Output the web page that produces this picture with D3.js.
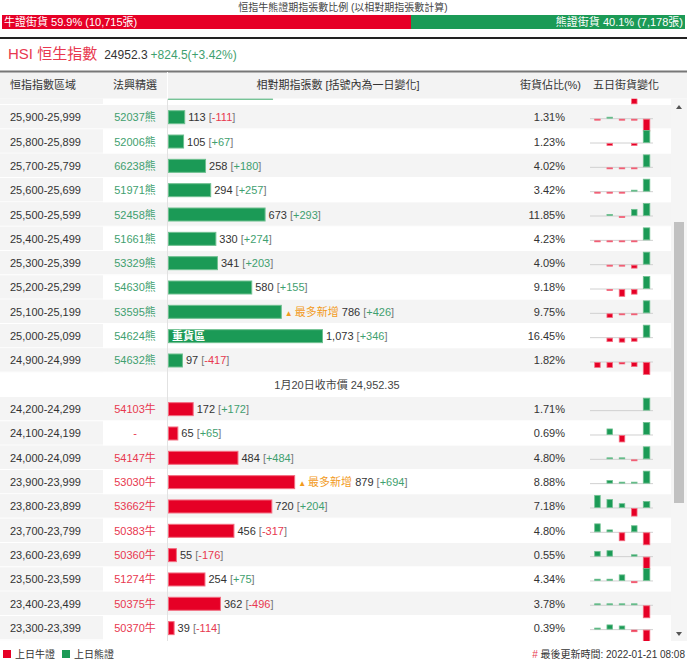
<!DOCTYPE html>
<html>
<head>
<meta charset="utf-8">
<script src="https://cdn.jsdelivr.net/npm/d3@7"></script>
<style>
  body { margin: 0; background: #fff; }
  svg { display: block; font-family: "Liberation Sans", "Noto Sans CJK TC", sans-serif; }
</style>
</head>
<body>
<script>
// ratio bar
var bullTotal = 10715, bearTotal = 7178;
var bullLabel = '牛證街貨 59.9% (10,715張)', bearLabel = '熊證街貨 40.1% (7,178張)';
var hsiValue = '24952.3', hsiChange = '+824.5(+3.42%)';
var closeText = '1月20日收市價 24,952.35';

// table rows, top to bottom (first row is scrolled up under the header)
var ranges = ['26,000-26,099', '25,900-25,999', '25,800-25,899', '25,700-25,799', '25,600-25,699', '25,500-25,599',
  '25,400-25,499', '25,300-25,399', '25,200-25,299', '25,100-25,199', '25,000-25,099', '24,900-24,999',
  '24,200-24,299', '24,100-24,199', '24,000-24,099', '23,900-23,999', '23,800-23,899', '23,700-23,799',
  '23,600-23,699', '23,500-23,599', '23,400-23,499', '23,300-23,399'];
var sides = ['bear', 'bear', 'bear', 'bear', 'bear', 'bear', 'bear', 'bear', 'bear', 'bear', 'bear', 'bear',
  'bull', 'bull', 'bull', 'bull', 'bull', 'bull', 'bull', 'bull', 'bull', 'bull'];
var codes = ['', '52037熊', '52006熊', '66238熊', '51971熊', '52458熊', '51661熊', '53329熊', '54630熊', '53595熊', '54624熊', '54632熊',
  '54103牛', '-', '54147牛', '53030牛', '53662牛', '50383牛', '50360牛', '51274牛', '50375牛', '50370牛'];
var counts = [725, 113, 105, 258, 294, 673, 330, 341, 580, 786, 1073, 97,
  172, 65, 484, 879, 720, 456, 55, 254, 362, 39];
var changes = [null, -111, 67, 180, 257, 293, 274, 203, 155, 426, 346, -417,
  172, 65, 484, 694, 204, -317, -176, 75, -496, -114];
var shares = ['', '1.31%', '1.23%', '4.02%', '3.42%', '11.85%', '4.23%', '4.09%', '9.18%', '9.75%', '16.45%', '1.82%',
  '1.71%', '0.69%', '4.80%', '8.88%', '7.18%', '4.80%', '0.55%', '4.34%', '3.78%', '0.39%'];
var notes = ['', '', '', '', '', '', '', '', '', '最多新增', '', '', '', '', '', '最多新增', '', '', '', '', '', ''];
var inside = ['', '', '', '', '', '', '', '', '', '', '重貨區', '', '', '', '', '', '', '', '', '', '', ''];
// five day change in street holdings
var fiveDay = [
  [0, 0, 0, -450, 600],
  [-8, 6, -8, -8, -111],
  [0, -11, 0, -11, 67],
  [0, -12, -12, -12, 180],
  [-15, -15, -15, 15, 257],
  [0, 18, -18, 150, 293],
  [-18, -18, -18, -18, 274],
  [0, -14, -14, -50, 203],
  [0, -10, -88, -60, 155],
  [0, -130, -30, -30, 426],
  [0, -100, -115, -90, 346],
  [-170, -170, -50, -140, -417],
  [0, 0, 0, 0, 172],
  [0, 30, -35, 0, 65],
  [0, 30, 30, -30, 484],
  [0, 150, 50, 50, 694],
  [410, 270, 130, -260, 204],
  [210, 50, -210, 160, -317],
  [70, 80, 0, 20, -176],
  [8, 8, 35, -8, 75],
  [30, 30, 30, 30, -496],
  [10, 40, 30, -15, -114]
];
var closeAfter = 11; // close price row goes after this row

var width = 687, height = 665;
var RED = '#e60026', GREEN = '#1b9a56', RED_L = '#f36d80', GREEN_L = '#6fc090';
var RED_T = '#e8384f', GREEN_T = '#3f9f6f';

var svg = d3.select('body').append('svg')
    .attr('width', width)
    .attr('height', height);

// ---- title + ratio bar
svg.append('text')
    .attr('x', 343).attr('y', 11)
    .attr('text-anchor', 'middle')
    .attr('font-size', 10).attr('fill', '#444')
    .text('恒指牛熊證期指張數比例 (以相對期指張數計算)');

var xr = d3.scaleLinear().domain([0, bullTotal + bearTotal]).range([2, 685]);
svg.append('rect').attr('x', xr(0)).attr('y', 15).attr('width', xr(bullTotal) - xr(0)).attr('height', 14).attr('fill', RED);
svg.append('rect').attr('x', xr(bullTotal)).attr('y', 15).attr('width', xr(bullTotal + bearTotal) - xr(bullTotal)).attr('height', 14).attr('fill', GREEN);
svg.append('text').attr('x', 4).attr('y', 26).attr('font-size', 11).attr('fill', '#fff').text(bullLabel);
svg.append('text').attr('x', 683).attr('y', 26).attr('text-anchor', 'end').attr('font-size', 11).attr('fill', '#fff').text(bearLabel);

svg.append('rect').attr('x', 0).attr('y', 37).attr('width', width).attr('height', 2).attr('fill', '#222');

// ---- HSI line
var hsi = svg.append('text').attr('x', 8).attr('y', 59);
hsi.append('tspan').attr('font-size', 15).attr('fill', RED_T).text('HSI 恒生指數');
hsi.append('tspan').attr('dx', 7).attr('font-size', 12).attr('fill', '#333').text(hsiValue);
hsi.append('tspan').attr('dx', 3).attr('font-size', 12).attr('fill', GREEN_T).text(hsiChange);

// ---- table rows
var rows = ranges.map(function(r, i) {
  return {range: r, side: sides[i], code: codes[i], count: counts[i], change: changes[i],
          share: shares[i], note: notes[i], inside: inside[i], five: fiveDay[i]};
});
var slots = [];
rows.forEach(function(d, i) {
  slots.push(d);
  if (i == closeAfter) slots.push({close: true});
});

var tableTop = 98.5, tableBottom = 641, tableRight = 671;
var y = d3.scaleBand()
    .domain(d3.range(slots.length))
    .range([80.7, 80.7 + slots.length * 24.33]);
var x = d3.scaleLinear().domain([0, 1073]).range([168, 322]);
var xs = d3.scaleBand().domain(d3.range(5)).range([591, 653]).paddingInner(0.55).paddingOuter(0.3);
var rh = y.bandwidth(), cy = rh / 2;

svg.append('clipPath').attr('id', 'tbl')
  .append('rect').attr('x', 0).attr('y', tableTop).attr('width', tableRight).attr('height', tableBottom - tableTop);

var body = svg.append('g').attr('clip-path', 'url(#tbl)');

var row = body.selectAll('g.row')
  .data(slots)
  .enter()
    .append('g')
    .attr('class', 'row')
    .attr('transform', function(d, i) { return 'translate(0,' + y(i) + ')'; });

row.append('rect')
    .attr('width', tableRight).attr('height', rh)
    .attr('fill', function(d, i) { return i % 2 == 1 ? '#f4f4f4' : '#fff'; });
row.filter(function(d) { return !d.close; })
  .append('rect')
    .attr('width', 103).attr('height', rh).attr('fill', '#f4f4f4');
row.append('line')
    .attr('x1', 0).attr('x2', tableRight).attr('y1', rh - 0.5).attr('y2', rh - 0.5)
    .attr('stroke', '#fff');

row.filter(function(d) { return d.close; })
  .append('text')
    .attr('x', 337).attr('y', cy + 4)
    .attr('text-anchor', 'middle').attr('font-size', 11).attr('fill', '#444')
    .text(closeText);

var data = row.filter(function(d) { return !d.close; });
// rows whose text is scrolled out of view get no text
var shown = data.filter(function(d, i) { return y(slots.indexOf(d)) + cy > tableTop; });

shown.append('text')
    .attr('x', 10).attr('y', cy + 4)
    .attr('font-size', 11).attr('fill', '#333')
    .text(function(d) { return d.range; });

shown.append('text')
    .attr('x', 135).attr('y', cy + 4)
    .attr('text-anchor', 'middle').attr('font-size', 11)
    .attr('fill', function(d) { return d.side == 'bear' ? GREEN_T : RED_T; })
    .text(function(d) { return d.code; });

data.append('rect')
    .attr('x', x(0) + 0.5)
    .attr('y', cy - 6.5)
    .attr('width', function(d) { return x(d.count) - x(0); })
    .attr('height', 13)
    .attr('fill', function(d) { return d.side == 'bear' ? GREEN : RED; })
    .attr('stroke', function(d) { return d.side == 'bear' ? GREEN_L : RED_L; })
    .attr('stroke-width', 1);

shown.filter(function(d) { return d.inside; })
  .append('text')
    .attr('x', 172).attr('y', cy + 4)
    .attr('font-size', 11).attr('font-weight', 'bold').attr('fill', '#fff')
    .text(function(d) { return d.inside; });

var lab = shown.filter(function(d) { return d.change !== null; })
  .append('text')
    .attr('x', function(d) { return x(d.count) + 4; })
    .attr('y', cy + 4)
    .attr('font-size', 11);
lab.filter(function(d) { return d.note; })
  .append('tspan').attr('font-size', 8).attr('fill', '#f29b1d').text('▲');
lab.filter(function(d) { return d.note; })
  .append('tspan').attr('dx', 2).attr('fill', '#f29b1d').text(function(d) { return d.note + ' '; });
lab.append('tspan').attr('fill', '#333').text(function(d) { return d3.format(',')(d.count) + ' '; });
lab.append('tspan').attr('fill', '#777').text('[');
lab.append('tspan')
    .attr('fill', function(d) { return d.change < 0 ? RED_T : GREEN_T; })
    .text(function(d) { return (d.change > 0 ? '+' : '') + d.change; });
lab.append('tspan').attr('fill', '#777').text(']');

shown.append('text')
    .attr('x', 565).attr('y', cy + 4)
    .attr('text-anchor', 'end').attr('font-size', 11).attr('fill', '#333')
    .text(function(d) { return d.share; });

// sparklines drawn last so bars may run over neighbouring rows
var spark = body.selectAll('g.spark')
  .data(slots)
  .enter()
    .append('g')
    .attr('class', 'spark')
    .attr('transform', function(d, i) { return 'translate(0,' + (y(i) + cy + 1) + ')'; })
  .filter(function(d) { return !d.close; });

spark.append('line')
    .attr('x1', 590).attr('x2', 653).attr('y1', 0.5).attr('y2', 0.5)
    .attr('stroke', '#d0d0d0');

spark.each(function(d) {
  var m = d3.max(d.five, function(v) { return Math.abs(v); });
  var h = d3.scaleLinear().domain([0, m]).range([0, 12]);
  var g = d3.select(this);
  d.five.forEach(function(v, j) {
    if (v == 0) return;
    g.append('rect')
      .attr('x', xs(j) - (j == 4 ? 0.5 : 0))
      .attr('width', xs.bandwidth() + (j == 4 ? 1 : 0))
      .attr('y', v > 0 ? -Math.max(h(v), 1) : 1)
      .attr('height', Math.max(h(Math.abs(v)), 1))
      .attr('fill', v > 0 ? GREEN : RED)
      .attr('stroke', v > 0 ? GREEN_L : RED_L)
      .attr('stroke-width', 0.8);
  });
});

// column divider
body.append('line')
    .attr('x1', 167.5).attr('x2', 167.5).attr('y1', tableTop).attr('y2', tableBottom)
    .attr('stroke', '#e2e2e2');

// ---- header
var head = svg.append('g');
head.append('rect').attr('x', 0).attr('y', 72).attr('width', width).attr('height', tableTop - 72).attr('fill', '#f3f3f3');
head.append('rect').attr('x', 0).attr('y', 70.5).attr('width', width).attr('height', 2).attr('fill', '#777');
head.append('line').attr('x1', 167.5).attr('x2', 167.5).attr('y1', 72).attr('y2', tableTop).attr('stroke', '#fff');
var hy = 89;
head.append('text').attr('x', 10).attr('y', hy).attr('font-size', 11).attr('fill', '#333').text('恒指指數區域');
head.append('text').attr('x', 113).attr('y', hy).attr('font-size', 11).attr('fill', '#333').text('法興精選');
head.append('text').attr('x', 338).attr('y', hy).attr('text-anchor', 'middle').attr('font-size', 11).attr('fill', '#333').text('相對期指張數 [括號內為一日變化]');
head.append('text').attr('x', 581).attr('y', hy).attr('text-anchor', 'end').attr('font-size', 11).attr('fill', '#333').text('街貨佔比(%)');
head.append('text').attr('x', 626).attr('y', hy).attr('text-anchor', 'middle').attr('font-size', 11).attr('fill', '#333').text('五日街貨變化');

// ---- scrollbar
var sb = svg.append('g');
sb.append('rect').attr('x', tableRight).attr('y', tableTop).attr('width', width - tableRight).attr('height', tableBottom - tableTop).attr('fill', '#f5f5f5');
sb.append('rect').attr('x', 674).attr('y', 222).attr('width', 10).attr('height', 281).attr('fill', '#c1c1c1');
sb.append('path').attr('d', 'M676,109 L682,109 L679,105 Z').attr('fill', '#555');
sb.append('path').attr('d', 'M676,632 L682,632 L679,636 Z').attr('fill', '#555');

// ---- footer legend
var foot = svg.append('g').attr('font-size', 10).attr('fill', '#333');
foot.append('rect').attr('x', 3).attr('y', 650).attr('width', 8).attr('height', 8).attr('fill', RED);
foot.append('text').attr('x', 15).attr('y', 658).text('上日牛證');
foot.append('rect').attr('x', 62).attr('y', 650).attr('width', 8).attr('height', 8).attr('fill', GREEN);
foot.append('text').attr('x', 74).attr('y', 658).text('上日熊證');
var upd = foot.append('text').attr('x', 685).attr('y', 658).attr('text-anchor', 'end');
upd.append('tspan').attr('fill', RED_T).text('# ');
upd.append('tspan').text('最後更新時間: 2022-01-21 08:08');
</script>
</body>
</html>
